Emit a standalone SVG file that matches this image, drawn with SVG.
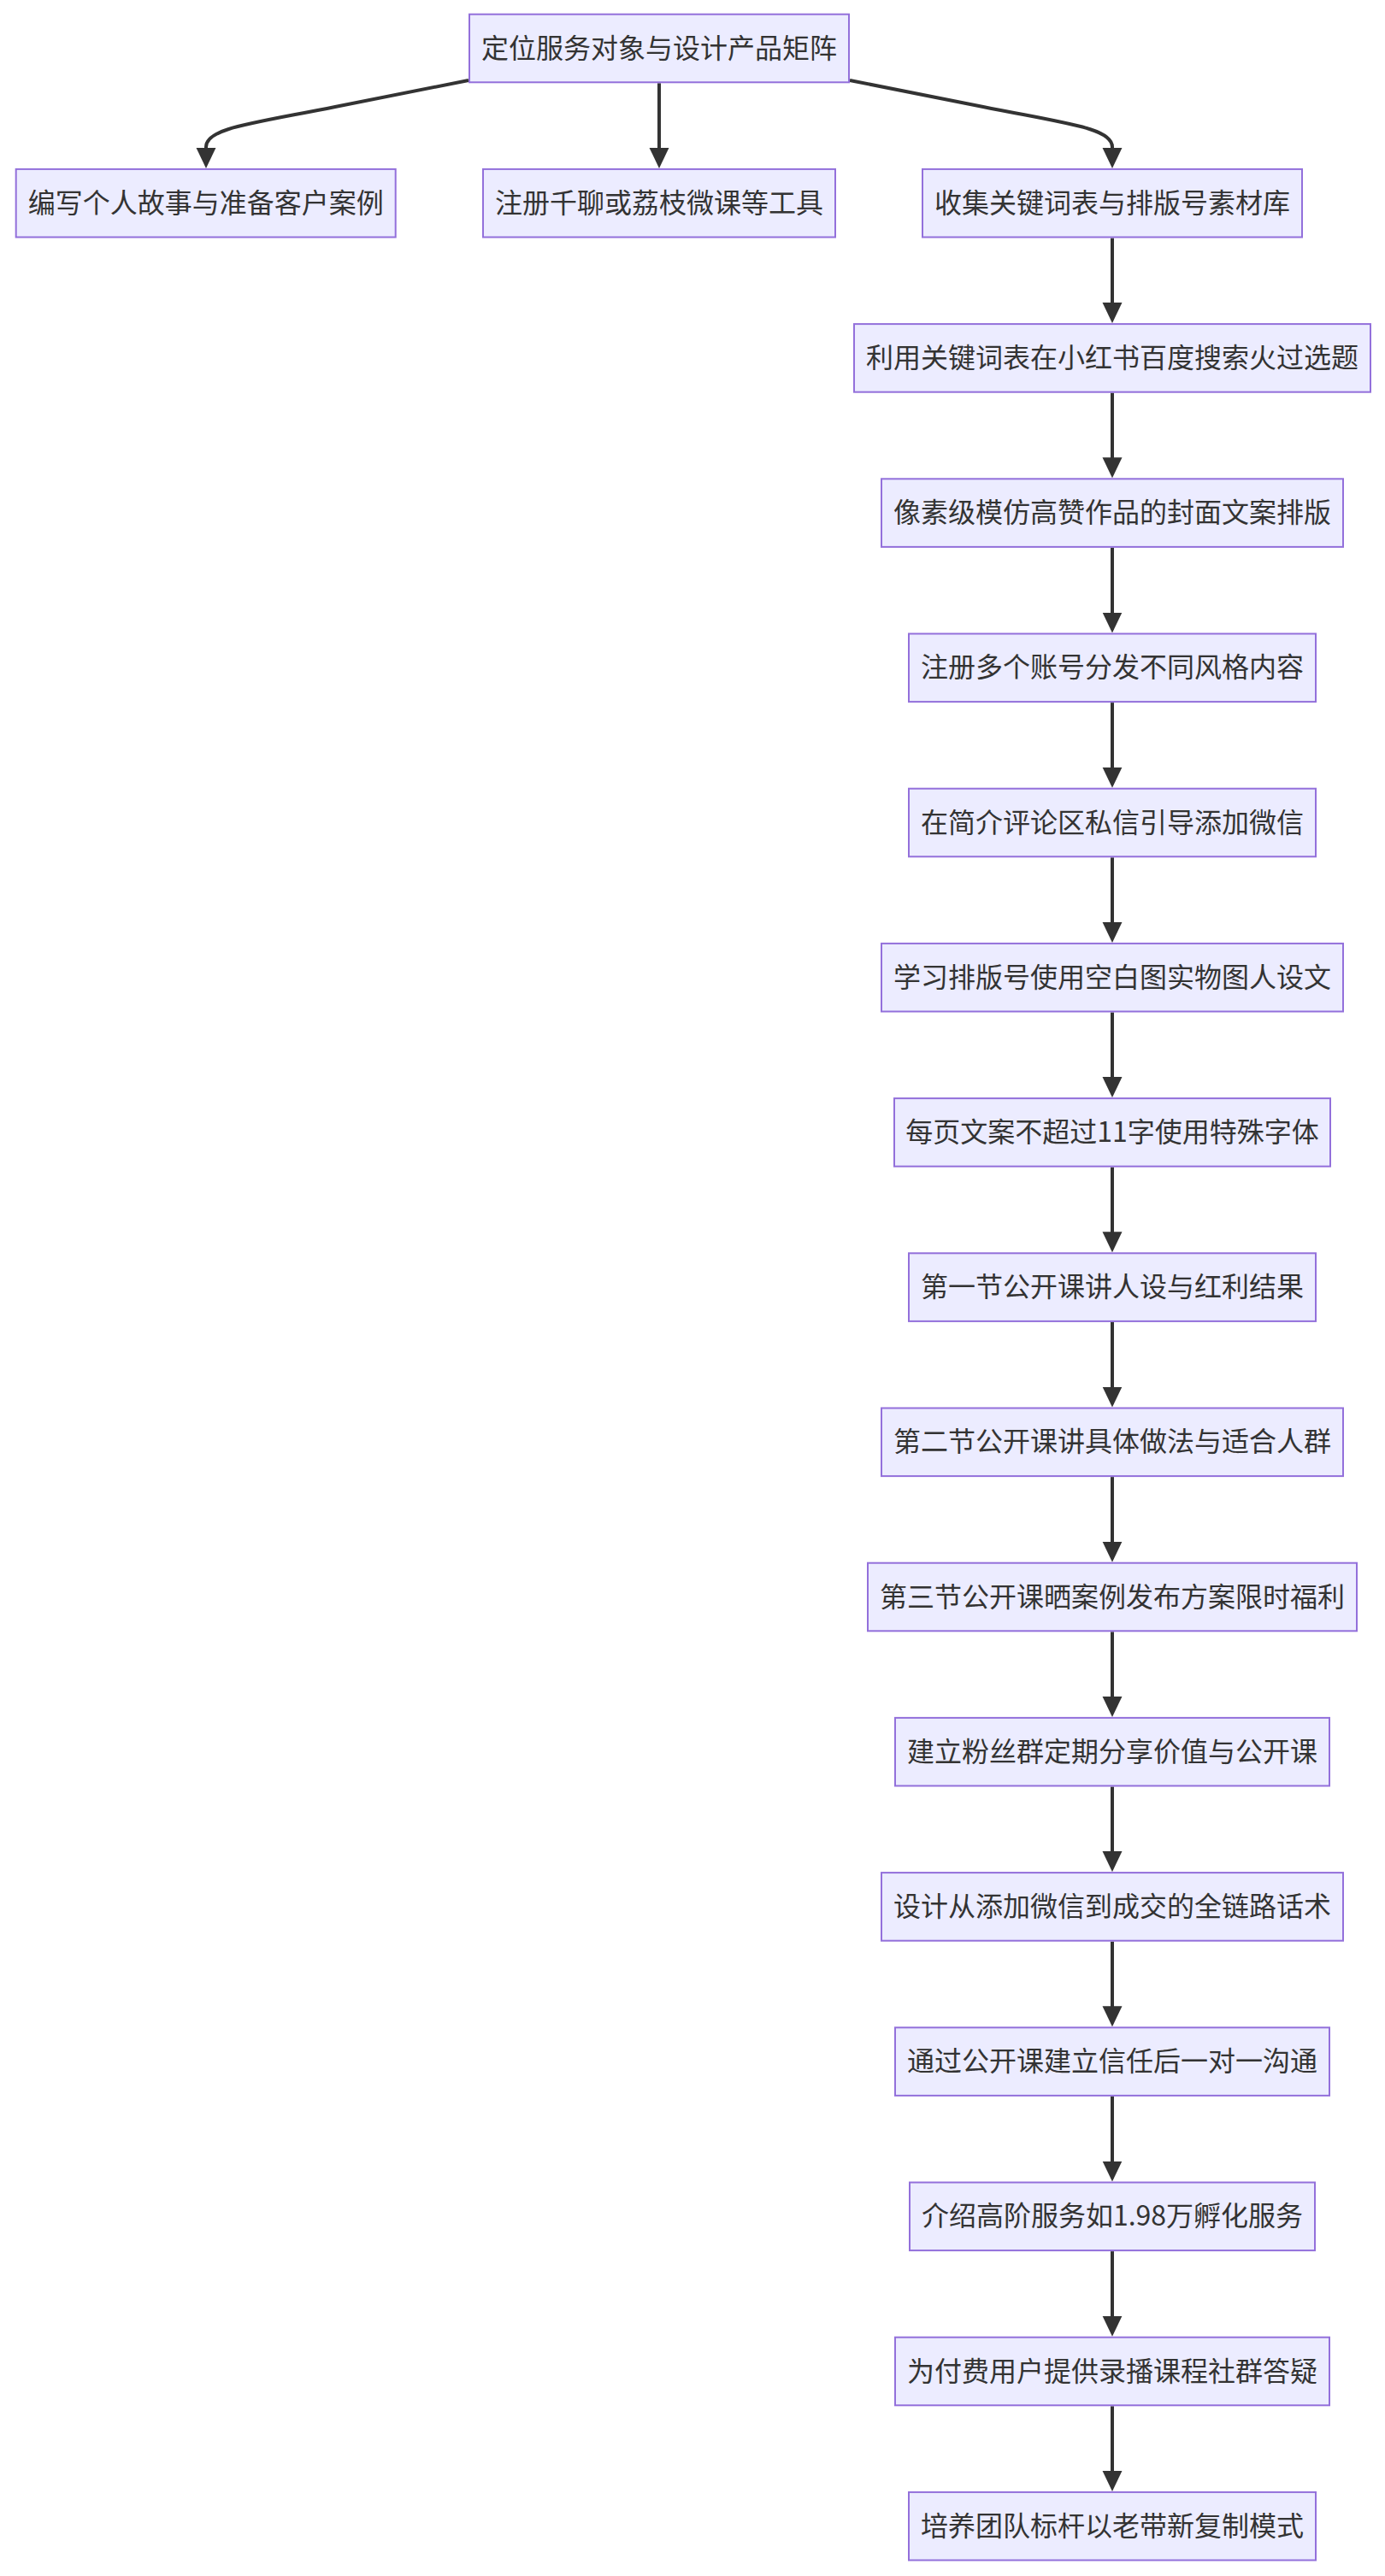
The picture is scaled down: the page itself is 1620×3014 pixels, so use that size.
<svg xmlns="http://www.w3.org/2000/svg" width="1620" height="3014" viewBox="0 0 1620 3014">
<defs>
<style>
.node rect{fill:#ECECFF;stroke:#9370DB;stroke-width:2}
.node text{font-family:"Noto Sans CJK SC","Noto Sans",sans-serif;font-size:32px;fill:#333333;text-anchor:middle;dominant-baseline:central}
.edges path{fill:none;stroke:#333333;stroke-width:4}
</style>
<marker id="arrow" markerUnits="userSpaceOnUse" viewBox="0 0 24 24" markerWidth="24" markerHeight="24" refX="20" refY="12" orient="auto">
<path d="M0,0.5 L24,12 L0,23.5 z" fill="#333333"/>
</marker>
</defs>
<rect x="0" y="0" width="1620" height="3014" fill="#ffffff"/>
<g id="edges" class="edges">
<path d="M548,94 L392,125 C292,145 241,150 241,172 L241,192.9" marker-end="url(#arrow)"/>
<path d="M771,97.3 L771,192.9" marker-end="url(#arrow)"/>
<path d="M994,94 L1150,125 C1250,145 1301,150 1301,172 L1301,192.9" marker-end="url(#arrow)"/>
<path d="M1301,278.5 L1301,374.1" marker-end="url(#arrow)"/>
<path d="M1301,459.7 L1301,555.3" marker-end="url(#arrow)"/>
<path d="M1301,640.9 L1301,736.5" marker-end="url(#arrow)"/>
<path d="M1301,822.1 L1301,917.7" marker-end="url(#arrow)"/>
<path d="M1301,1003.3 L1301,1098.9" marker-end="url(#arrow)"/>
<path d="M1301,1184.5 L1301,1280.1" marker-end="url(#arrow)"/>
<path d="M1301,1365.7 L1301,1461.3" marker-end="url(#arrow)"/>
<path d="M1301,1546.9 L1301,1642.5" marker-end="url(#arrow)"/>
<path d="M1301,1728.1 L1301,1823.7" marker-end="url(#arrow)"/>
<path d="M1301,1909.3 L1301,2004.9" marker-end="url(#arrow)"/>
<path d="M1301,2090.5 L1301,2186.1" marker-end="url(#arrow)"/>
<path d="M1301,2271.7 L1301,2367.3" marker-end="url(#arrow)"/>
<path d="M1301,2452.9 L1301,2548.5" marker-end="url(#arrow)"/>
<path d="M1301,2634.1 L1301,2729.7" marker-end="url(#arrow)"/>
<path d="M1301,2815.3 L1301,2910.9" marker-end="url(#arrow)"/>
</g>
<g id="n0" class="node"><rect x="549" y="16.7" width="444" height="79.6"/><text x="771" y="53.5">定位服务对象与设计产品矩阵</text></g>
<g id="n1" class="node"><rect x="18.7" y="197.9" width="444" height="79.6"/><text x="240.7" y="234.7">编写个人故事与准备客户案例</text></g>
<g id="n2" class="node"><rect x="565" y="197.9" width="412" height="79.6"/><text x="771" y="234.7">注册千聊或荔枝微课等工具</text></g>
<g id="n3" class="node"><rect x="1079" y="197.9" width="444" height="79.6"/><text x="1301" y="234.7">收集关键词表与排版号素材库</text></g>
<g id="n4" class="node"><rect x="999" y="379.1" width="604" height="79.6"/><text x="1301" y="415.9">利用关键词表在小红书百度搜索火过选题</text></g>
<g id="n5" class="node"><rect x="1031" y="560.3" width="540" height="79.6"/><text x="1301" y="597.1">像素级模仿高赞作品的封面文案排版</text></g>
<g id="n6" class="node"><rect x="1063" y="741.5" width="476" height="79.6"/><text x="1301" y="778.3">注册多个账号分发不同风格内容</text></g>
<g id="n7" class="node"><rect x="1063" y="922.7" width="476" height="79.6"/><text x="1301" y="959.5">在简介评论区私信引导添加微信</text></g>
<g id="n8" class="node"><rect x="1031" y="1103.9" width="540" height="79.6"/><text x="1301" y="1140.7">学习排版号使用空白图实物图人设文</text></g>
<g id="n9" class="node"><rect x="1046" y="1285.1" width="510" height="79.6"/><text x="1301" y="1321.9">每页文案不超过11字使用特殊字体</text></g>
<g id="n10" class="node"><rect x="1063" y="1466.3" width="476" height="79.6"/><text x="1301" y="1503.1">第一节公开课讲人设与红利结果</text></g>
<g id="n11" class="node"><rect x="1031" y="1647.5" width="540" height="79.6"/><text x="1301" y="1684.3">第二节公开课讲具体做法与适合人群</text></g>
<g id="n12" class="node"><rect x="1015" y="1828.7" width="572" height="79.6"/><text x="1301" y="1865.5">第三节公开课晒案例发布方案限时福利</text></g>
<g id="n13" class="node"><rect x="1047" y="2009.9" width="508" height="79.6"/><text x="1301" y="2046.7">建立粉丝群定期分享价值与公开课</text></g>
<g id="n14" class="node"><rect x="1031" y="2191.1" width="540" height="79.6"/><text x="1301" y="2227.9">设计从添加微信到成交的全链路话术</text></g>
<g id="n15" class="node"><rect x="1047" y="2372.3" width="508" height="79.6"/><text x="1301" y="2409.1">通过公开课建立信任后一对一沟通</text></g>
<g id="n16" class="node"><rect x="1064" y="2553.5" width="474" height="79.6"/><text x="1301" y="2590.3">介绍高阶服务如1.98万孵化服务</text></g>
<g id="n17" class="node"><rect x="1047" y="2734.7" width="508" height="79.6"/><text x="1301" y="2771.5">为付费用户提供录播课程社群答疑</text></g>
<g id="n18" class="node"><rect x="1063" y="2915.9" width="476" height="79.6"/><text x="1301" y="2952.7">培养团队标杆以老带新复制模式</text></g>
</svg>
